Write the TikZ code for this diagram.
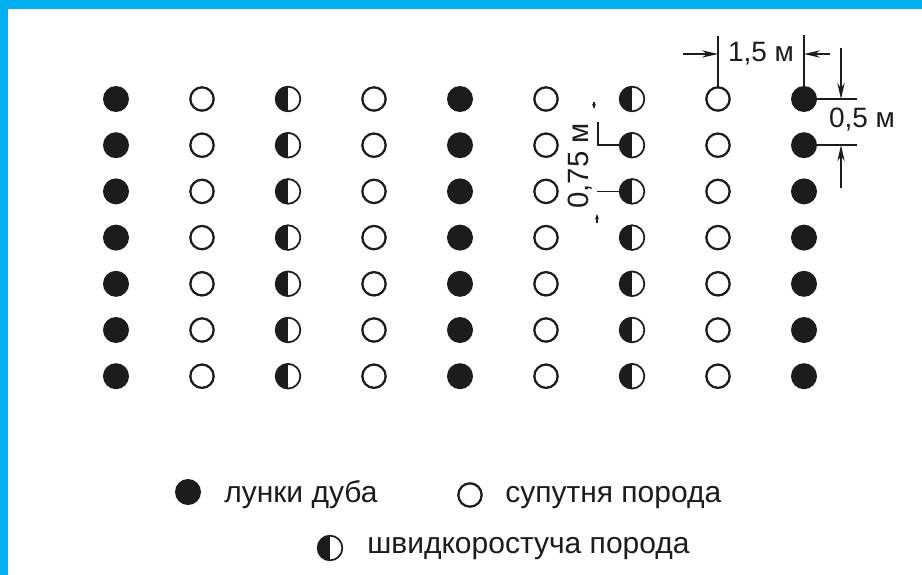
\documentclass[tikz,border=0pt]{standalone}
\usepackage{fontspec}
\setmainfont{Liberation Sans}
\usetikzlibrary{arrows.meta,calc}
\definecolor{frame}{HTML}{00B0F0}
\definecolor{ink}{HTML}{1C1C1C}
\begin{document}
\begin{tikzpicture}[x=0.75pt,y=-0.75pt,
  hole/.style={circle,minimum size=19.5pt,inner sep=0pt,outer sep=0pt},
  oak/.style={hole,fill=ink},
  comp/.style={hole,draw=ink,line width=1.7pt,minimum size=17.5pt},
  fast/.style={hole,draw=ink,line width=1.3pt,minimum size=18.5pt,
    path picture={\fill[ink] (path picture bounding box.south west) rectangle (path picture bounding box.north);}},
  dim/.style={draw=ink,line width=1.1pt},
  arr/.style={dim,-{Stealth[length=12pt,width=5.5pt]}},
  tiny/.style={dim,-{Stealth[length=4pt,width=3pt]}},
  lbl/.style={font=\fontsize{21}{25}\selectfont,text=ink,inner sep=0pt},
  leg/.style={font=\fontsize{22.5}{27}\selectfont,text=ink,inner sep=0pt,anchor=base west}]
\useasboundingbox (0,0) rectangle (922,575);
\fill[white] (0,0) rectangle (922,575);
\fill[frame] (0,0) rectangle (922,9);
\fill[frame] (0,0) rectangle (8,575);
% grid of planting holes
\foreach \c/\t in {1/oak,2/comp,3/fast,4/comp,5/oak,6/comp,7/fast,8/comp,9/oak}{
  \foreach \r in {1,...,7}{
    \node[\t] (d-\r-\c) at ({116+86*(\c-1)},{99+46.2*(\r-1)}) {};
  }}
% 1,5 m dimension
\coordinate (e8) at (718,36);
\coordinate (e9) at (804,35);
\draw[dim] (e8) -- (d-1-8.north);
\draw[dim] (e9) -- (d-1-9.north);
\coordinate (a1) at (683,54);
\coordinate (a2) at (830,54);
\draw[arr] (a1) -- (e8 |- a1);
\draw[arr] (a2) -- (e9 |- a2);
\node[lbl] (n15) at (761,54) {1,5 м};
% 0,5 m dimension
\coordinate (h1) at (857,99);
\coordinate (h2) at (857,145);
\draw[dim] (d-1-9.east) -- (h1 |- d-1-9);
\draw[dim] (d-2-9.east) -- (h2 |- d-2-9);
\coordinate (v1) at (841,48);
\coordinate (v2) at (841,188);
\draw[arr] (v1) -- (v1 |- d-1-9);
\draw[arr] (v2) -- (v2 |- d-2-9);
\node[lbl] (n05) at (862,120) {0,5 м};
% 0,75 m dimension
\node[lbl,rotate=90,font=\fontsize{22}{26}\selectfont] (n075) at (580,166) {0,75 м};
\coordinate (b1) at (598,122);
\coordinate (b2) at (597,191);
\draw[dim] (b1) -- (b1 |- d-2-7) -- (d-2-7.west);
\draw[dim] (b2 |- d-3-7) -- (d-3-7.west);
\coordinate (s1) at (594,102);
\coordinate (s2) at (594,109);
\draw[tiny] (s1) -- (s2);
\coordinate (s3) at (597,223);
\coordinate (s4) at (597,214);
\draw[tiny] (s3) -- (s4);
% legend
\node[oak] (l1) at (188,492) {};
\node[leg] (t1) at (224,502) {лунки дуба};
\node[comp] (l2) at (470,495) {};
\node[leg] (t2) at (505,502) {супутня порода};
\node[fast] (l3) at (330,548) {};
\node[leg] (t3) at (367,553) {швидкоростуча порода};
\end{tikzpicture}
\end{document}
